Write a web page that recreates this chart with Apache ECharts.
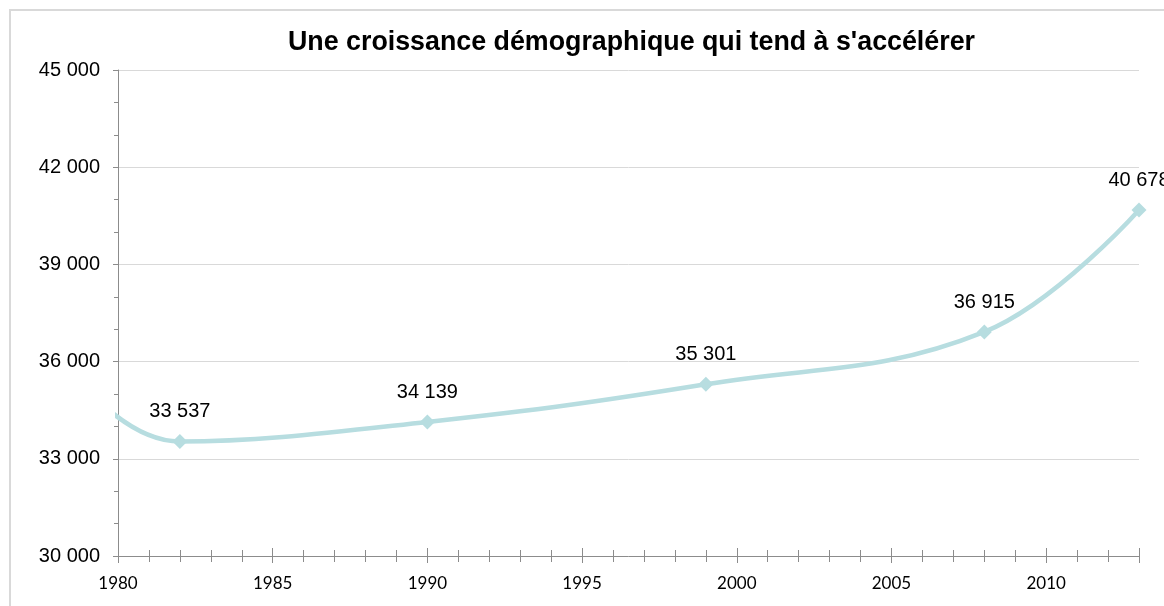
<!DOCTYPE html>
<html>
<head>
<meta charset="utf-8">
<script src="https://cdn.jsdelivr.net/npm/echarts@6/dist/echarts.min.js"></script>
<style>
  html, body { margin: 0; padding: 0; background: #fff; }
  #main { width: 1164px; height: 606px; }
</style>
</head>
<body>
<div id="main"></div>
<script>
// données
var annees = [1975, 1982, 1990, 1999, 2008, 2013];
var population = [41000, 33537, 34139, 35301, 36915, 40678];
// le point de 1975 sert seulement à prolonger la courbe (hors axe)
var affiche = [false, true, true, true, true, true];
var yTicks = [30000, 33000, 36000, 39000, 42000, 45000];

function espaceMilliers(v) {
    return String(v).replace(/\B(?=(\d{3})+(?!\d))/g, ' ');
}

var myChart = echarts.init(document.getElementById('main'));

var points = annees.map(function (a, i) {
    return {
        value: [a, population[i]],
        symbolSize: affiche[i] ? 15 : 0,
        label: { show: affiche[i] }
    };
});

var option = {
    animation: false,
    title: {
        text: "Une croissance démographique qui tend à s'accélérer",
        left: 283,
        top: 24,
        textStyle: {
            fontFamily: 'Liberation Sans',
            fontSize: 26.8,
            fontWeight: 'bold',
            color: '#000'
        }
    },
    graphic: [{
        type: 'rect',
        shape: { x: 10, y: 10, width: 1200, height: 700 },
        style: { fill: 'none', stroke: '#d9d9d9', lineWidth: 2 },
        silent: true
    }],
    grid: { left: 118, right: 25, top: 70, bottom: 50 },
    xAxis: [{
        type: 'value',
        min: 1980,
        max: 2013,
        interval: 5,
        axisLine: { lineStyle: { color: '#8c8c8c', width: 1 } },
        axisTick: { show: true, length: 7, lineStyle: { color: '#8c8c8c' } },
        minorTick: { show: true, splitNumber: 5, length: 6, lineStyle: { color: '#8c8c8c' } },
        splitLine: { show: false },
        axisLabel: {
            fontFamily: 'Lato',
            fontSize: 17,
            color: '#000',
            margin: 19,
            showMaxLabel: false,
            formatter: function (v) { return String(v); }
        }
    }, {
        type: 'value',
        position: 'bottom',
        min: 1980,
        max: 2013,
        interval: 5,
        axisLine: { show: false },
        axisTick: { show: true, inside: true, length: 8, lineStyle: { color: '#8c8c8c' } },
        minorTick: { show: true, splitNumber: 5, length: 6, lineStyle: { color: '#8c8c8c' } },
        splitLine: { show: false },
        axisLabel: { show: false }
    }],
    yAxis: {
        type: 'value',
        min: yTicks[0],
        max: yTicks[yTicks.length - 1],
        interval: 3000,
        axisLine: { show: true, lineStyle: { color: '#8c8c8c' } },
        axisTick: { show: true, length: 5, lineStyle: { color: '#8c8c8c' } },
        minorTick: { show: true, splitNumber: 3, length: 4, lineStyle: { color: '#8c8c8c' } },
        splitLine: { show: true, lineStyle: { color: '#d9d9d9' } },
        axisLabel: {
            fontFamily: 'Liberation Sans',
            fontSize: 20,
            color: '#000',
            margin: 18,
            formatter: espaceMilliers
        }
    },
    series: [{
        type: 'line',
        smooth: 0.4,
        clip: true,
        data: points,
        symbol: 'diamond',
        lineStyle: { color: '#b7dde0', width: 4.5 },
        itemStyle: { color: '#b7dde0' },
        label: {
            show: true,
            position: 'top',
            distance: 12,
            fontFamily: 'Liberation Sans',
            fontSize: 20,
            color: '#000',
            formatter: function (p) { return espaceMilliers(p.value[1]); }
        }
    }]
};

myChart.setOption(option);
</script>
</body>
</html>
